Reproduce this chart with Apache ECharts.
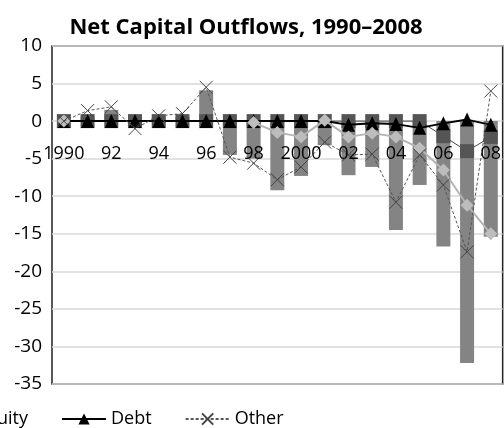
<!DOCTYPE html>
<html>
<head>
<meta charset="utf-8">
<script src="https://cdn.jsdelivr.net/npm/echarts@6/dist/echarts.min.js"></script>
<style>
html,body{margin:0;padding:0;background:#fff;}
#chart{width:504px;height:428px;}
</style>
</head>
<body>
<div id="chart"></div>
<script>
// data
var years = ['1990','91','92','93','94','95','96','97','98','99','2000','01','02','03','04','05','06','07','08'];
var total = [0, 0.5, 1.5, -0.4, 0.5, 0.6, 4.1, -4.5, -5.0, -9.2, -7.3, -3.2, -7.2, -6.1, -14.5, -8.5, -16.7, -32.2, -15.4];
var reserves = [0, 0, 0, 0, 0, 0, 0, 0, 0, 0, 0, 0, 0, 0, 0, 0, -2.0, -4.0, -2.1];
var equity = [0, null, null, null, null, null, null, null, -0.2, -1.5, -2.1, 0.1, -2.1, -1.6, -2.1, -3.6, -6.5, -11.2, -15.0];
var debt = [0, 0, 0, 0, 0, 0, 0, 0, 0, 0, 0, 0, -0.5, -0.3, -0.4, -0.9, -0.3, 0.2, -0.5];
var other = [0, 1.4, 1.9, -1.0, 0.7, 1.0, 4.5, -4.8, -5.6, -7.8, -6.1, -2.8, -4.5, -4.4, -10.8, -4.5, -8.5, -17.4, 4.0];
var yTicks = [-35, 10, 5];

var font = '"Open Sans", sans-serif';
var cross = 'path://M0,0L10,10M10,0L0,10';

var myChart = echarts.init(document.getElementById('chart'));
var option = {
    animation: false,
    title: {
        text: 'Net Capital Outflows, 1990\u20132008',
        left: 241,
        textAlign: 'center',
        top: 12,
        textStyle: {fontFamily: font, fontSize: 22, fontWeight: 'bold', color: '#000'}
    },
    legend: {
        data: ['Equity', 'Debt', 'Other'],
        left: -79,
        top: 405,
        itemWidth: 44,
        itemHeight: 14,
        itemGap: 33,
        textStyle: {fontFamily: font, fontSize: 18, color: '#000'}
    },
    grid: {
        left: 52,
        right: -2,
        top: 46,
        bottom: 44,
        show: true,
        borderColor: '#222',
        borderWidth: 1.5
    },
    xAxis: {
        type: 'category',
        data: years,
        z: 10,
        offset: -263,
        axisLine: {show: false, onZero: false},
        axisTick: {show: false},
        axisLabel: {interval: 1, margin: 24, fontFamily: font, fontSize: 18, color: '#000'}
    },
    yAxis: {
        type: 'value',
        min: yTicks[0],
        max: yTicks[1],
        interval: yTicks[2],
        axisLine: {show: false},
        axisTick: {show: false},
        axisLabel: {margin: 10, fontFamily: font, fontSize: 19, color: '#000'},
        splitLine: {lineStyle: {color: '#d9d9d9', width: 1.5}}
    },
    series: [
        {
            name: 'Total',
            type: 'bar',
            barWidth: 14,
            data: total,
            itemStyle: {color: '#848484'},
            z: 1
        },
        {
            name: 'Reserves',
            type: 'line',
            data: reserves,
            symbol: 'rect',
            symbolSize: 14,
            showAllSymbol: true,
            lineStyle: {color: '#444', width: 1},
            itemStyle: {color: '#555'},
            z: 2
        },
        {
            name: 'Debt',
            type: 'line',
            data: debt,
            symbol: 'triangle',
            symbolSize: [13, 14],
            showAllSymbol: true,
            lineStyle: {color: '#000', width: 2},
            itemStyle: {color: '#000'},
            z: 3
        },
        {
            name: 'Equity',
            type: 'line',
            data: equity,
            symbol: 'diamond',
            symbolSize: 13,
            showAllSymbol: true,
            lineStyle: {color: '#b4b4b4', width: 2},
            itemStyle: {color: '#bdbdbd'},
            z: 4
        },
        {
            name: 'Other',
            type: 'line',
            data: other,
            symbol: cross,
            symbolSize: 13,
            showAllSymbol: true,
            lineStyle: {color: '#555', width: 1, type: [3, 2]},
            itemStyle: {color: 'none', borderColor: '#444', borderWidth: 1},
            z: 5
        }
    ]
};
myChart.setOption(option);
</script>
</body>
</html>
